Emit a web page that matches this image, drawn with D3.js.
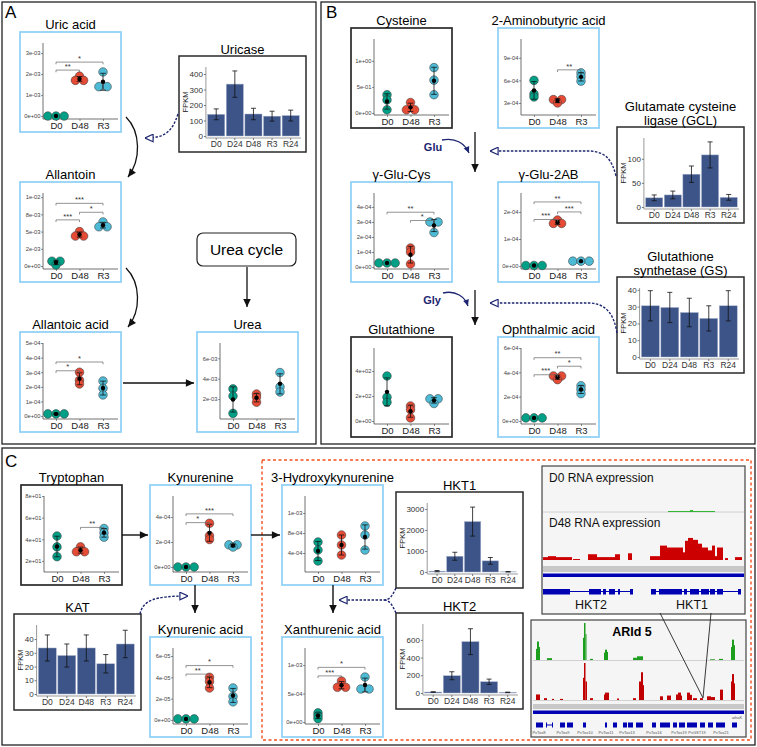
<!DOCTYPE html>
<html><head><meta charset="utf-8">
<script src="https://cdn.jsdelivr.net/npm/d3@7"></script>
<style>body{margin:0;background:#fff;} svg text{font-family:"Liberation Sans",Arial,sans-serif;}</style>
</head><body><script>
// ---------------- DATA ----------------
const dotCats = ["D0","D48","R3"];
const barCats = ["D0","D24","D48","R3","R24"];
const groupColors = ["#00A087","#E64B35","#4DBBD5"];

// Panel A
const uricAcid = [[0,0,0],[1.9e-3,1.7e-3,1.7e-3],[2.1e-3,1.4e-3,1.4e-3]];
const uricAcidTicks = [0,1e-3,2e-3,3e-3];
const uricAcidLabels = ["0e+00","1e-03","2e-03","3e-03"];
const uricAcidSig = [["D0","D48",2.19e-3,"**"],["D0","R3",2.57e-3,"*"]];

const allantoin = [[0.7e-3,0.7e-3,0.15e-3],[5.0e-3,4.35e-3,4.35e-3],[6.4e-3,5.7e-3,5.7e-3]];
const allantoinTicks = [0,2.5e-3,5e-3,7.5e-3,1e-2];
const allantoinLabels = ["0e+00","2e-03","5e-03","8e-03","1e-02"];
const allantoinSig = [["D0","D48",6.7e-3,"***"],["D48","R3",7.8e-3,"*"],["D0","R3",9.1e-3,"***"]];

const allantoicAcid = [[0.1e-4,0.15e-4,0.2e-4],[3.0e-4,2.45e-4,2.2e-4],[2.4e-4,1.9e-4,1.45e-4]];
const allantoicTicks = [0,1e-4,2e-4,3e-4,4e-4,5e-4];
const allantoicLabels = ["0e+00","1e-04","2e-04","3e-04","4e-04","5e-04"];
const allantoicSig = [["D0","D48",3.1e-4,"*"],["D0","R3",3.7e-4,"*"]];

const urea = [[3.0e-3,2.3e-3,0.6e-3],[2.5e-3,2.2e-3,1.7e-3],[4.6e-3,3.2e-3,2.7e-3]];
const ureaTicks = [2e-3,4e-3,6e-3];
const ureaLabels = ["2e-03","4e-03","6e-03"];

const uricaseMean = [140,335,142,128,132];
const uricaseErr = [35,85,37,32,35];
const uricaseTicks = [0,100,200,300,400];

// Panel B
const cysteine = [[0.35,0.25,0.06],[0.2,0.06,0.06],[0.87,0.63,0.35]];
const cysteineTicks = [0,0.5,1];
const cysteineLabels = ["0e+00","5e-01","1e+00"];

const aminobutyric = [[6.0e-4,4.2e-4,3.8e-4],[3.45e-4,3.45e-4,3.0e-4],[7.0e-4,6.5e-4,5.9e-4]];
const aminobutyricTicks = [3e-4,6e-4,9e-4];
const aminobutyricLabels = ["3e-04","6e-04","9e-04"];
const aminobutyricSig = [["D48","R3",7.4e-4,"**"]];

const gluCys = [[0.27e-4,0.27e-4,0.27e-4],[1.27e-4,1.0e-4,0.2e-4],[3.0e-4,3.0e-4,2.3e-4]];
const gluCysTicks = [0,1e-4,2e-4,3e-4,4e-4];
const gluCysLabels = ["0e+00","1e-04","2e-04","3e-04","4e-04"];
const gluCysSig = [["D0","R3",3.65e-4,"**"],["D48","R3",3.1e-4,"*"]];

const glu2AB = [[0.02e-4,0.02e-4,0.02e-4],[1.7e-4,1.6e-4,1.55e-4],[0.18e-4,0.18e-4,0.18e-4]];
const glu2ABTicks = [0,1e-4,2e-4];
const glu2ABLabels = ["0e+00","1e-04","2e-04"];
const glu2ABSig = [["D0","D48",1.72e-4,"***"],["D48","R3",2.0e-4,"***"],["D0","R3",2.37e-4,"**"]];

const glutathione = [[360,190,150],[120,90,25],[180,175,140]];
const glutathioneTicks = [0,200,400];
const glutathioneLabels = ["0e+00","2e+02","4e+02"];

const ophthalmic = [[0.25e-4,0.25e-4,0.25e-4],[3.7e-4,3.7e-4,3.4e-4],[2.9e-4,2.6e-4,2.25e-4]];
const ophthalmicTicks = [0,2e-4,4e-4,6e-4];
const ophthalmicLabels = ["0e+00","2e-04","4e-04","6e-04"];
const ophthalmicSig = [["D0","D48",3.8e-4,"***"],["D48","R3",4.5e-4,"*"],["D0","R3",5.2e-4,"**"]];

const gclMean = [19,25,68,108,20];
const gclErr = [6,8,17,27,6];
const gclTicks = [0,50,100];
const gsMean = [30.5,29.5,26.5,23,30.5];
const gsErr = [9,9,8.5,7.5,9];
const gsTicks = [0,10,20,30,40];

// Panel C
const tryptophan = [[43,33,24],[33,29.5,27.5],[50,46,42]];
const tryptophanTicks = [20,40,60,80];
const tryptophanLabels = ["2e+01","4e+01","6e+01","8e+01"];
const tryptophanSig = [["D48","R3",51,"**"]];

const kynurenine = [[0,0,0],[3.5e-4,2.5e-4,2.2e-4],[1.8e-4,1.75e-4,1.6e-4]];
const kynurenineTicks = [0,2e-4,4e-4];
const kynurenineLabels = ["0e+00","2e-04","4e-04"];
const kynurenineSig = [["D0","D48",3.55e-4,"*"],["D0","R3",4.25e-4,"***"]];

const hydroxyKyn = [[6.2e-4,4.6e-4,2.4e-4],[7.6e-4,5.6e-4,3.6e-4],[9.4e-4,7.6e-4,4.6e-4]];
const hydroxyKynTicks = [4e-4,8e-4,1.2e-3];
const hydroxyKynLabels = ["4e-04","8e-04","1e-03"];

const kynurenicAcid = [[0.1e-5,0.1e-5,0.1e-5],[4.0e-5,3.6e-5,3.0e-5],[3.0e-5,2.2e-5,1.7e-5]];
const kynurenicTicks = [0,2e-5,4e-5,6e-5];
const kynurenicLabels = ["0e+00","2e-05","4e-05","6e-05"];
const kynurenicSig = [["D0","D48",4.3e-5,"**"],["D0","R3",5.1e-5,"*"]];

const xanthurenic = [[1.6e-4,1.1e-4,0.6e-4],[7.2e-4,6.1e-4,6.1e-4],[7.9e-4,5.8e-4,5.8e-4]];
const xanthurenicTicks = [0,5e-4,1e-3];
const xanthurenicLabels = ["0e+00","5e-04","1e-03"];
const xanthurenicSig = [["D0","D48",8.1e-4,"***"],["D0","R3",9.6e-4,"*"]];

const hkt1Mean = [40,750,2400,530,10];
const hkt1Err = [30,190,690,160,10];
const hkt1Ticks = [0,1000,2000,3000];
const hkt2Mean = [11,195,580,127,7];
const hkt2Err = [3,45,146,30,3];
const hkt2Ticks = [0,200,400,600];
const katMean = [33.5,28,33.5,22,36.4];
const katErr = [9.5,8.4,9.5,6.7,10];
const katTicks = [0,10,20,30,40];

// Genome browser tracks: [start, end, coverage]
const d0Coverage = [[125,172,1],[147,150,2]];
const d48Coverage = [[0,5,3],[5,13,4],[13,17,3],[17,29,3],[30,37,1],[45,54,6],[54,72,3],[72,77,6],[85,89,7],[107,117,4],[117,124,15],[124,140,13],[140,142,8],[142,145,20],[145,150,23],[150,155,21],[155,159,17],[159,165,13],[165,169,10],[169,172,15],[172,174,4],[174,180,13],[182,185,2],[192,199,3]];
const hktExons = [[0,27],[46,58],[60,63],[66,72],[75,77],[87,90],[108,113],[116,139],[141,144],[147,156],[158,166],[167,172],[174,180],[195,198]];
const hktGenes = [["HKT2",0,90,48],["HKT1",108,198,149]];
const arid5Green = [[3,4,30],[4,6,50],[6,7,35],[14,19,5],[50,51,60],[51,52.5,100],[52.5,53.5,70],[57,60,3],[71,72,20],[72,74,28],[74,75,22],[100,104,6],[104,110,10],[177,182,2],[186,190,3],[198,199,35],[199,201,55],[201,202,40]];
const arid5Red = [[3,7,15],[11,14,5],[19,21,3],[27,30,3],[50,51,60],[51,52.5,100],[52.5,54,50],[57,60,5],[71,72,15],[72,76,20],[84,86,4],[100,103,5],[106,108,50],[108,110,75],[110,111,40],[127,130,10],[134,138,12],[143,145,15],[145,148,20],[148,149,12],[154,157,20],[157,159,14],[160,164,5],[167,170,5],[174,178,10],[178,182,8],[187,190,28],[198,199,50],[199,201,70],[201,202,45]];
const arid5Exons = [[3,10],[13,14],[19,20],[27,32],[34,40],[50,53],[72,74],[80,84],[90,94],[95,100],[103,110],[119,123],[127,137],[140,144],[146,152],[154,164],[167,172],[175,180],[183,192],[199,204]];
const arid5GeneLabels = [["PvTox8",6],["PvTox9",30],["PvTox10",52],["PvTox11",73],["PvTox13",94],["PvTox16",121],["PvTox19",146],["PvGST19",164],["PvTox21",188]];

// ---------------- DRAWING ----------------
const FONT = "Liberation Sans, Arial, sans-serif";
const svg = d3.select("body").append("svg").attr("width",757).attr("height",747);
svg.append("rect").attr("width",757).attr("height",747).attr("fill","#fff");
const NAVY = "#1d2670";

const defs = svg.append("defs");
function marker(id, size, fill, stroke){
  const m = defs.append("marker").attr("id",id).attr("viewBox","0 0 10 10").attr("refX",9.5).attr("refY",5)
    .attr("markerWidth",size).attr("markerHeight",size).attr("markerUnits","userSpaceOnUse").attr("orient","auto");
  m.append("path").attr("d","M0.5,0.8L9.5,5L0.5,9.2z").attr("fill",fill).attr("stroke",stroke||"none").attr("stroke-width",stroke?1.3:0);
}
marker("mBlack",9,"#111");
marker("mNavy",7,NAVY);
marker("mOpen",9,"#fff",NAVY);

// panel frames
svg.append("rect").attr("x",2).attr("y",2).attr("width",314).attr("height",442).attr("fill","none").attr("stroke","#222").attr("stroke-width",1.3);
svg.append("rect").attr("x",321).attr("y",2).attr("width",434).attr("height",442).attr("fill","none").attr("stroke","#222").attr("stroke-width",1.3);
svg.append("rect").attr("x",2).attr("y",448).attr("width",753).attr("height",297).attr("fill","none").attr("stroke","#222").attr("stroke-width",1.3);
svg.append("rect").attr("x",262).attr("y",460).attr("width",489).attr("height",280).attr("fill","none").attr("stroke","#F4511E").attr("stroke-width",1.4).attr("stroke-dasharray","3,2.5");
[["A",5,18],["B",326,18],["C",5,467]].forEach(([t,x,y])=>svg.append("text").attr("x",x).attr("y",y).attr("font-size",17).text(t));

function layoutDots(arr, ys, cx, r){
  const pts = arr.map(v=>({v, py: ys(v)})).sort((a,b)=>a.py-b.py);
  const bins = [];
  pts.forEach(p=>{ const b = bins[bins.length-1]; if(b && p.py-b[0].py < 2.5) b.push(p); else bins.push([p]); });
  bins.forEach(b=>{ const cy = d3.mean(b,p=>p.py); b.forEach((p,k)=>{ p.px = cx + (k-(b.length-1)/2)*2*r*0.95; p.cy = cy; }); });
  return pts;
}

function dotChart(s){
  const w=101,h=100, {x,y}=s;
  const g = svg.append("g");
  g.append("rect").attr("x",x).attr("y",y).attr("width",w).attr("height",h).attr("fill","#fff")
    .attr("stroke", s.blue ? "#8DCFF6" : "#2a2a2a").attr("stroke-width",1.7);
  g.append("text").attr("x",x+w/2).attr("y",y-3.5).attr("text-anchor","middle").attr("font-size",13).text(s.title);
  const ax=x+23, bot=y+87, top=y+11;
  const ys = d3.scaleLinear().domain(s.domain).range([bot,top]);
  const xs = d3.scalePoint().domain(dotCats).range([x+36,x+83]);
  const ya = g.append("g").attr("transform",`translate(${ax},0)`)
    .call(d3.axisLeft(ys).tickValues(s.ticks).tickFormat((d,i)=>s.labels[i]).tickSize(2).tickSizeOuter(0));
  ya.attr("font-family",FONT);
  ya.select(".domain").attr("d",`M0,${top}V${bot}`).attr("stroke","#333").attr("stroke-width",0.7);
  ya.selectAll(".tick line").attr("stroke","#444").attr("stroke-width",0.6);
  ya.selectAll(".tick text").attr("font-size",5.8).attr("fill","#444").attr("x",-2.5);
  const xa = g.append("g").attr("transform",`translate(0,${bot})`).call(d3.axisBottom(xs).tickSize(2).tickSizeOuter(0));
  xa.attr("font-family",FONT);
  xa.select(".domain").attr("d",`M${ax},0H${x+w-3}`).attr("stroke","#333").attr("stroke-width",0.7);
  xa.selectAll(".tick line").attr("stroke","#444").attr("stroke-width",0.6);
  xa.selectAll(".tick text").attr("font-size",9.5).attr("fill","#222").attr("y",3);
  const r=4.3;
  s.vals.forEach((arr,i)=>{
    const cx = xs(dotCats[i]);
    const pts = layoutDots(arr, ys, cx, r);
    g.selectAll(null).data(pts).join("circle").attr("cx",d=>d.px).attr("cy",d=>d.cy).attr("r",r)
      .attr("fill",groupColors[i]).attr("stroke","#3a3a3a").attr("stroke-width",0.55);
  });
  s.vals.forEach((arr,i)=>{
    const cx = xs(dotCats[i]); const m = d3.mean(arr); const sd = d3.deviation(arr)||0;
    const y1 = ys(m+sd), y2 = ys(m-sd);
    if(sd>0){
      g.append("path").attr("d",`M${cx},${y1}V${y2}M${cx-2.8},${y1}H${cx+2.8}M${cx-2.8},${y2}H${cx+2.8}`)
        .attr("stroke","#111").attr("stroke-width",0.8).attr("fill","none");
    }
    g.append("circle").attr("cx",cx).attr("cy",ys(m)).attr("r",2.2).attr("fill","#000");
  });
  (s.sig||[]).forEach(([a,b,v,lab])=>{
    const yy = ys(v), x1 = xs(a), x2 = xs(b);
    g.append("path").attr("d",`M${x1},${yy+2.2}V${yy}H${x2}V${yy+2.2}`).attr("fill","none").attr("stroke","#666").attr("stroke-width",0.7);
    g.append("text").attr("x",(x1+x2)/2).attr("y",yy-1.3).attr("text-anchor","middle").attr("font-size",7.5).attr("fill","#333").text(lab);
  });
}

function barChart(s){
  const w=127,h=96,{x,y}=s;
  const g = svg.append("g");
  g.append("rect").attr("x",x).attr("y",y).attr("width",w).attr("height",h).attr("fill","#fff").attr("stroke","#2a2a2a").attr("stroke-width",1.5);
  s.title.forEach((t,k)=>g.append("text").attr("x",x+w/2).attr("y",y-2-(s.title.length-1-k)*14).attr("text-anchor","middle").attr("font-size",13).text(t));
  const base=y+80, top=y+12;
  const ys = d3.scaleLinear().domain([0,s.max]).range([base,top]);
  const maxLen = d3.max(s.ticks,t=>String(t).length);
  const ax = x+14+4.3*maxLen;
  const xb = d3.scaleBand().domain(barCats).range([ax+1,x+w-6]).paddingInner(0.08).paddingOuter(0.04);
  const ya = g.append("g").attr("transform",`translate(${ax},0)`).call(d3.axisLeft(ys).tickValues(s.ticks).tickFormat(d3.format("d")).tickSize(2).tickSizeOuter(0));
  ya.attr("font-family",FONT);
  ya.select(".domain").attr("d",`M0,${top-1}V${base+2}`).attr("stroke","#999").attr("stroke-width",1);
  ya.selectAll(".tick line").attr("stroke","#777");
  ya.selectAll(".tick text").attr("font-size",8).attr("fill","#333").attr("x",-3);
  const xa = g.append("g").attr("transform",`translate(0,${base+2})`).call(d3.axisBottom(xb).tickSize(2).tickSizeOuter(0));
  xa.attr("font-family",FONT);
  xa.select(".domain").attr("d",`M${ax},0H${x+w-5}`).attr("stroke","#999").attr("stroke-width",1);
  xa.selectAll(".tick line").attr("stroke","#777");
  xa.selectAll(".tick text").attr("font-size",8.5).attr("fill","#333").attr("y",3);
  g.selectAll(null).data(s.means).join("rect").attr("x",(d,i)=>xb(barCats[i])).attr("width",xb.bandwidth())
    .attr("y",d=>ys(d)).attr("height",d=>base-ys(d)).attr("fill","#3C5488").attr("stroke","#aab3cf").attr("stroke-width",0.5);
  s.means.forEach((m,i)=>{
    const cx = xb(barCats[i])+xb.bandwidth()/2, e=s.errs[i];
    const y1=ys(m+e), y2=ys(Math.max(0,m-e));
    g.append("path").attr("d",`M${cx},${y1}V${y2}M${cx-2.5},${y1}H${cx+2.5}M${cx-2.5},${y2}H${cx+2.5}`).attr("stroke","#111").attr("stroke-width",0.8).attr("fill","none");
  });
  g.append("text").attr("transform",`translate(${x+8.5},${y+46}) rotate(-90)`).attr("text-anchor","middle").attr("font-size",7.5).attr("fill","#222").text("FPKM");
}

// Panel A charts
dotChart({x:20,y:32,title:"Uric acid",blue:true,vals:uricAcid,ticks:uricAcidTicks,labels:uricAcidLabels,domain:[-0.00014,0.00348],sig:uricAcidSig});
dotChart({x:20,y:182,title:"Allantoin",blue:true,vals:allantoin,ticks:allantoinTicks,labels:allantoinLabels,domain:[-0.00043,0.0106],sig:allantoinSig});
dotChart({x:20,y:332,title:"Allantoic acid",blue:true,vals:allantoicAcid,ticks:allantoicTicks,labels:allantoicLabels,domain:[-0.00002,0.0005],sig:allantoicSig});
dotChart({x:197,y:332,title:"Urea",blue:true,vals:urea,ticks:ureaTicks,labels:ureaLabels,domain:[0.00005,0.0075]});
barChart({x:179,y:56,title:["Uricase"],means:uricaseMean,errs:uricaseErr,max:439,ticks:uricaseTicks});

// Panel B charts
dotChart({x:351,y:28,title:"Cysteine",blue:false,vals:cysteine,ticks:cysteineTicks,labels:cysteineLabels,domain:[-0.04,1.42]});
dotChart({x:498,y:28,title:"2-Aminobutyric acid",blue:true,vals:aminobutyric,ticks:aminobutyricTicks,labels:aminobutyricLabels,domain:[0.00014,0.00115],sig:aminobutyricSig});
dotChart({x:351,y:182,title:"γ-Glu-Cys",blue:true,vals:gluCys,ticks:gluCysTicks,labels:gluCysLabels,domain:[-0.000013,0.000493],sig:gluCysSig});
dotChart({x:498,y:182,title:"γ-Glu-2AB",blue:true,vals:glu2AB,ticks:glu2ABTicks,labels:glu2ABLabels,domain:[-0.000011,0.00027],sig:glu2ABSig});
dotChart({x:351,y:337,title:"Glutathione",blue:false,vals:glutathione,ticks:glutathioneTicks,labels:glutathioneLabels,domain:[-24,584]});
dotChart({x:498,y:337,title:"Ophthalmic acid",blue:true,vals:ophthalmic,ticks:ophthalmicTicks,labels:ophthalmicLabels,domain:[-0.000025,0.0006],sig:ophthalmicSig});
barChart({x:617,y:127,title:["Glutamate cysteine","ligase (GCL)"],means:gclMean,errs:gclErr,max:141,ticks:gclTicks});
barChart({x:617,y:277,title:["Glutathione","synthetase (GS)"],means:gsMean,errs:gsErr,max:40.5,ticks:gsTicks});

// Panel C charts
dotChart({x:21,y:485,title:"Tryptophan",blue:false,vals:tryptophan,ticks:tryptophanTicks,labels:tryptophanLabels,domain:[9.8,80],sig:tryptophanSig});
dotChart({x:150,y:485,title:"Kynurenine",blue:true,vals:kynurenine,ticks:kynurenineTicks,labels:kynurenineLabels,domain:[-0.00004,0.000568],sig:kynurenineSig});
dotChart({x:282,y:485,title:"3-Hydroxykynurenine",blue:true,vals:hydroxyKyn,ticks:hydroxyKynTicks,labels:hydroxyKynLabels,domain:[0.00002,0.00154]});
dotChart({x:150,y:637,title:"Kynurenic acid",blue:true,vals:kynurenicAcid,ticks:kynurenicTicks,labels:kynurenicLabels,domain:[-0.0000038,0.0000675],sig:kynurenicSig});
dotChart({x:282,y:637,title:"Xanthurenic acid",blue:true,vals:xanthurenic,ticks:xanthurenicTicks,labels:xanthurenicLabels,domain:[-0.000035,0.0013],sig:xanthurenicSig});
barChart({x:396,y:492,title:["HKT1"],means:hkt1Mean,errs:hkt1Err,max:3238,ticks:hkt1Ticks});
barChart({x:396,y:613,title:["HKT2"],means:hkt2Mean,errs:hkt2Err,max:768,ticks:hkt2Ticks});
barChart({x:14,y:614,title:["KAT"],means:katMean,errs:katErr,max:49.5,ticks:katTicks});

// Pathway annotations
function link(d, color, width, markerId, dash){
  const p = svg.append("path").attr("d",d).attr("fill","none").attr("stroke",color).attr("stroke-width",width);
  if(markerId) p.attr("marker-end",`url(#${markerId})`);
  if(dash) p.attr("stroke-dasharray",dash);
}
link("M126,117 C141,132 141,160 128,177","#111",1.3,"mBlack");
link("M126,268 C141,283 141,311 128,327","#111",1.3,"mBlack");
link("M247,267 V307","#111",1.3,"mBlack");
link("M123,383 H194","#111",1.4,"mBlack");
link("M178,114 C172,132 165,138 145,138",NAVY,1.4,"mOpen","2.5,1.5");
svg.append("rect").attr("x",197).attr("y",233).attr("width",99).attr("height",33).attr("rx",6).attr("fill","#fff").attr("stroke","#222").attr("stroke-width",1.2);
svg.append("text").attr("x",246.5).attr("y",255).attr("text-anchor","middle").attr("font-size",15.5).text("Urea cycle");

svg.append("text").attr("x",433).attr("y",151).attr("text-anchor","middle").attr("font-size",11).attr("font-weight","bold").attr("fill",NAVY).text("Glu");
link("M442,140 C456,137 465,144 469,153",NAVY,1.3,"mNavy");
link("M475,132 V172","#111",1.3,"mBlack");
link("M616,176 C612,160 606,152 590,151 L490,151",NAVY,1.4,"mOpen","2.5,1.5");
svg.append("text").attr("x",432).attr("y",304).attr("text-anchor","middle").attr("font-size",11).attr("font-weight","bold").attr("fill",NAVY).text("Gly");
link("M443,293 C456,290 465,297 468,306",NAVY,1.3,"mNavy");
link("M475,290 V325","#111",1.3,"mBlack");
link("M617,333 C614,315 607,304 590,303 L490,303",NAVY,1.4,"mOpen","2.5,1.5");

link("M122,535 H148","#111",1.4,"mBlack");
link("M251,535 H280","#111",1.4,"mBlack");
link("M195,585 V613","#111",1.4,"mBlack");
link("M333,585 V613","#111",1.4,"mBlack");
link("M140,614 C143,600 155,596 188,596",NAVY,1.4,"mOpen","2.5,1.5");
link("M396,588 C392,596 390,600 384,600 L339,600",NAVY,1.4,"mOpen","2.5,1.5");
link("M396,613 C392,605 390,600 384,600",NAVY,1.4,null,"2.5,1.5");

// Genome browser: HKT locus
const gb = svg.append("g");
gb.append("rect").attr("x",542).attr("y",466).attr("width",203).attr("height",148).attr("fill","#f5f5f5").attr("stroke","#444").attr("stroke-width",1.2);
const gx1 = d3.scaleLinear().domain([0,201]).range([543,744]);
gb.append("line").attr("x1",543).attr("x2",744).attr("y1",512).attr("y2",512).attr("stroke","#d0d0d0");
gb.append("text").attr("x",549).attr("y",482).attr("font-size",12).attr("fill","#111").text("D0 RNA expression");
gb.append("text").attr("x",549).attr("y",527).attr("font-size",12).attr("fill","#111").text("D48 RNA expression");
const d0Y = d3.scaleLinear().domain([0,25]).range([512,488]);
gb.selectAll(null).data(d0Coverage).join("rect").attr("x",d=>gx1(d[0])).attr("width",d=>gx1(d[1])-gx1(d[0])).attr("y",d=>d0Y(d[2])).attr("height",d=>512-d0Y(d[2])).attr("fill","#2DB52D");
const d48Y = d3.scaleLinear().domain([0,25]).range([560,536]);
gb.selectAll(null).data(d48Coverage).join("rect").attr("x",d=>gx1(d[0])).attr("width",d=>gx1(d[1])-gx1(d[0])).attr("y",d=>d48Y(d[2])).attr("height",d=>560-d48Y(d[2])).attr("fill","#CC0000");
gb.append("rect").attr("x",543).attr("y",566).attr("width",201).attr("height",6).attr("fill","#c8c8c8");
gb.append("rect").attr("x",543).attr("y",573.5).attr("width",201).attr("height",3.5).attr("fill","#0000B3");
hktGenes.forEach(([name,a,b,c])=>{
  gb.append("line").attr("x1",gx1(a)).attr("x2",gx1(b)).attr("y1",591.5).attr("y2",591.5).attr("stroke","#0000B3").attr("stroke-width",1);
  gb.append("text").attr("x",gx1(c)).attr("y",609).attr("text-anchor","middle").attr("font-size",12.5).attr("fill","#111").text(name);
});
gb.selectAll(null).data(hktExons).join("rect").attr("x",d=>gx1(d[0])).attr("width",d=>gx1(d[1])-gx1(d[0])).attr("y",589).attr("height",5.5).attr("fill","#0000B3");

// Genome browser: ARId 5
const ga = svg.append("g");
ga.append("rect").attr("x",531).attr("y",620).attr("width",215).attr("height",117).attr("fill","#f5f5f5").attr("stroke","#444").attr("stroke-width",1.2);
const gx2 = d3.scaleLinear().domain([0,211]).range([533,744]);
ga.append("text").attr("x",632).attr("y",636).attr("text-anchor","middle").attr("font-size",12.5).attr("font-weight","bold").text("ARId 5");
ga.append("line").attr("x1",533).attr("x2",744).attr("y1",660.5).attr("y2",660.5).attr("stroke","#d0d0d0");
ga.append("line").attr("x1",533).attr("x2",744).attr("y1",700.5).attr("y2",700.5).attr("stroke","#d0d0d0");
const greenY = d3.scaleLinear().domain([0,100]).range([660,623]);
const redY = d3.scaleLinear().domain([0,100]).range([700,663]);
ga.selectAll(null).data(arid5Green).join("rect").attr("x",d=>gx2(d[0])).attr("width",d=>gx2(d[1])-gx2(d[0])).attr("y",d=>greenY(d[2])).attr("height",d=>660-greenY(d[2])).attr("fill","#1E9E1E");
ga.selectAll(null).data(arid5Red).join("rect").attr("x",d=>gx2(d[0])).attr("width",d=>gx2(d[1])-gx2(d[0])).attr("y",d=>redY(d[2])).attr("height",d=>700-redY(d[2])).attr("fill","#C00000");
ga.append("rect").attr("x",533).attr("y",704).attr("width",211).attr("height",5).attr("fill","#c8c8c8");
ga.append("rect").attr("x",533).attr("y",710.5).attr("width",211).attr("height",3.5).attr("fill","#0000B3");
ga.append("line").attr("x1",gx2(13)).attr("x2",gx2(20)).attr("y1",725).attr("y2",725).attr("stroke","#0000B3").attr("stroke-width",1);
ga.selectAll(null).data(arid5Exons).join("rect").attr("x",d=>gx2(d[0])).attr("width",d=>gx2(d[1])-gx2(d[0])).attr("y",722.5).attr("height",5).attr("fill","#0000B3");
ga.selectAll(null).data(arid5GeneLabels).join("text").attr("x",d=>gx2(d[1])).attr("y",734).attr("text-anchor","middle").attr("font-size",4).attr("fill","#555").text(d=>d[0]);
ga.append("text").attr("x",gx2(204)).attr("y",719).attr("text-anchor","middle").attr("font-size",4).attr("fill","#555").text("aihaK");

svg.append("path").attr("d","M660,613 L703,698 M711,613 L703,698").attr("stroke","#222").attr("stroke-width",0.9).attr("fill","none");
</script></body></html>
